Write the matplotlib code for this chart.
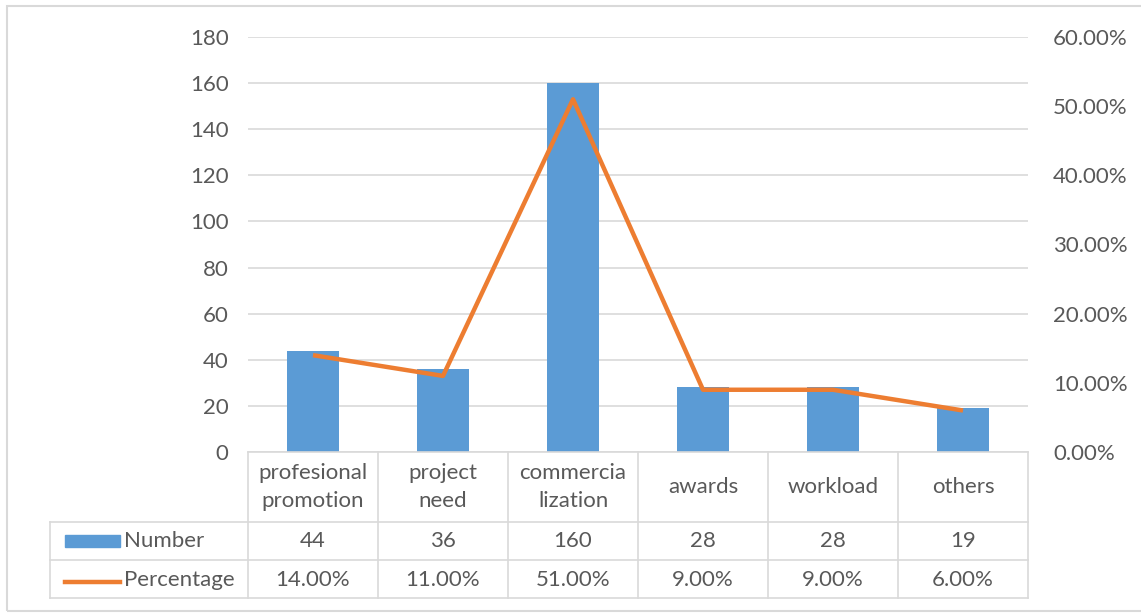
import numpy as np
import matplotlib.pyplot as plt
from matplotlib.patches import Rectangle
from matplotlib.ticker import FuncFormatter

categories = ["profesional\npromotion", "project\nneed", "commercia\nlization",
              "awards", "workload", "others"]
numbers = [44, 36, 160, 28, 28, 19]
percentages = [0.14, 0.11, 0.51, 0.09, 0.09, 0.06]

blue = "#5B9BD5"
orange = "#ED7D31"
grey_txt = "#595959"
grid_c = "#D9D9D9"

plt.rcParams['font.family'] = ['Lato', 'DejaVu Sans']
fs = 16

fig = plt.figure(figsize=(11.41, 6.16), dpi=100)
W, H = 1141, 616
ax = fig.add_axes([248 / W, (H - 452) / H, 780 / W, 415 / H])

x = np.arange(len(categories))
ax.bar(x, numbers, width=0.4, color=blue, zorder=2)
ax.set_xlim(-0.5, len(categories) - 0.5)
ax.set_ylim(0, 180)
ax.set_yticks(np.arange(0, 181, 20))
ax.grid(axis='y', color=grid_c, linewidth=1.2, zorder=0)
ax.set_xticks([])
for s in ax.spines.values():
    s.set_visible(False)
ax.tick_params(axis='y', length=0, pad=14, labelsize=fs, labelcolor=grey_txt)

ax2 = ax.twinx()
ax2.plot(x, percentages, color=orange, linewidth=3.2, zorder=3, solid_capstyle='butt')
ax2.set_ylim(0, 0.6)
ax2.set_yticks(np.arange(0, 0.61, 0.1))
ax2.yaxis.set_major_formatter(FuncFormatter(lambda v, p: "%.2f%%" % (v * 100)))
for s in ax2.spines.values():
    s.set_visible(False)
ax2.tick_params(axis='y', length=0, pad=18, labelsize=fs, labelcolor=grey_txt)

# data table below the plot
tr = ax.get_xaxis_transform()
ah = 415.0
def yax(py):
    return (452 - py) / ah

left = -0.5 - (248 - 50) / 130.0
right = len(categories) - 0.5
kw = dict(transform=tr, clip_on=False, color=grid_c, linewidth=1.2)
ax.plot([-0.5, right], [0, 0], **kw)
for py in [522, 560, 598]:
    ax.plot([left, right], [yax(py)] * 2, **kw)
for xv in np.arange(-0.5, right + 0.1, 1):
    ax.plot([xv, xv], [0, yax(598)], **kw)
ax.plot([left, left], [yax(522), yax(598)], **kw)

for i, c in enumerate(categories):
    ax.text(i, yax(487), c, transform=tr, ha='center', va='center',
            fontsize=fs, color=grey_txt, linespacing=1.45)
    ax.text(i, yax(541), str(numbers[i]), transform=tr, ha='center', va='center',
            fontsize=fs, color=grey_txt)
    ax.text(i, yax(580), "%.2f%%" % (percentages[i] * 100), transform=tr,
            ha='center', va='center', fontsize=fs, color=grey_txt)

# legend keys inside the table
fig.patches.append(Rectangle((65 / W, (H - 547) / H), 55 / W, 12 / H,
                             transform=fig.transFigure, color=blue))
fig.lines.append(plt.Line2D([65 / W, 120 / W], [(H - 582) / H] * 2,
                            transform=fig.transFigure, color=orange, linewidth=3.2))
fig.text(124 / W, (H - 541) / H, "Number", ha='left', va='center',
         fontsize=fs, color=grey_txt)
fig.text(124 / W, (H - 580) / H, "Percentage", ha='left', va='center',
         fontsize=fs, color=grey_txt)

# outer chart frame
fig.patches.append(Rectangle((7 / W, (H - 611) / H), 1140 / W, 605 / H,
                             transform=fig.transFigure, fill=False,
                             edgecolor=grid_c, linewidth=1.5))

fig.savefig("out.png", dpi=100)
